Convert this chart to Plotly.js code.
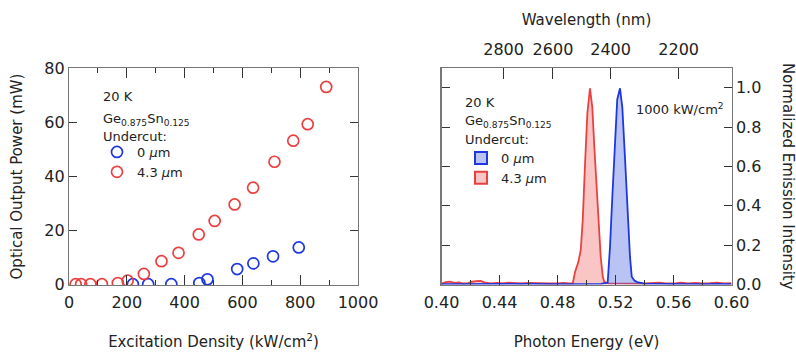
<!DOCTYPE html>
<html>
<head>
<meta charset="utf-8">
<script src="https://cdn.plot.ly/plotly-3.0.1.min.js"></script>
<style>html,body{margin:0;padding:0;background:#fff;}#chart{width:796px;height:354px;}</style>
</head>
<body>
<div id="chart"></div>
<script>
// ---- Left panel: optical output power vs excitation density ----
const densRed = [23, 42, 74, 114, 169, 203, 259, 320, 379, 449, 504, 573, 637, 711, 776, 826, 890];
const powRed  = [0, 0, 0, 0, 0.4, 1.3, 3.8, 8.5, 11.6, 18.4, 23.4, 29.5, 35.7, 45.3, 53.1, 59.2, 73.0];
const densBlue = [221, 274, 354, 451, 479, 582, 638, 706, 795];
const powBlue  = [0, 0, 0, 0.4, 1.8, 5.6, 7.7, 10.3, 13.6];

// ---- Right panel: normalized emission spectra at 1000 kW/cm^2 ----
const eRed = [0.400,0.403,0.406,0.409,0.412,0.415,0.418,0.421,0.424,0.427,0.430,0.434,0.438,0.442,0.446,0.450,0.455,0.460,0.465,0.470,0.475,0.480,0.484,0.488,0.4905,
  0.4921,0.4944,0.4960,0.4974,0.4990,0.5006,0.5024,0.5040,0.5054,0.5071,0.5087,0.5098,0.5112,0.5123,
  0.515,0.520,0.525,0.530,0.535,0.540,0.545,0.550,0.555,0.560,0.565,0.570,0.575,0.580,0.585,0.590,0.595,0.600];
const iRed = [0.004,0.012,0.015,0.008,0.010,0.005,0.006,0.014,0.017,0.018,0.010,0.006,0.008,0.006,0.009,0.007,0.005,0.008,0.006,0.007,0.005,0.006,0.008,0.005,0.006,
  0.064,0.115,0.174,0.327,0.615,0.87,0.997,0.90,0.70,0.48,0.276,0.14,0.04,0.013,
  0.006,0.005,0.007,0.006,0.004,0.005,0.008,0.010,0.006,0.005,0.009,0.006,0.008,0.005,0.007,0.010,0.006,0.007];
const eBlue = [0.400,0.420,0.440,0.460,0.480,0.500,0.510,0.5146,0.5162,0.5178,0.5197,0.5212,0.5231,0.5247,0.5265,0.5284,0.5300,0.5312,0.533,0.535,0.537,0.540,0.550,0.560,0.570,0.580,0.590,0.600];
const iBlue = [0.002,0.003,0.002,0.003,0.002,0.002,0.003,0.01,0.19,0.445,0.73,0.94,0.997,0.90,0.65,0.36,0.14,0.04,0.02,0.012,0.008,0.004,0.003,0.002,0.003,0.002,0.003,0.002];

// ---- Tick labels ----
const wavelengthTicks = [2800, 2600, 2400, 2200];
const energyTicksFromWavelength = wavelengthTicks.map(w => 1239.84 / w);

const FONT = 'DejaVu Sans, Verdana, sans-serif';
const TXT = '#222';
const RED = 'rgb(236,64,64)';
const BLUE = 'rgb(30,55,225)';

const traces = [
  {x: densBlue, y: powBlue, type: 'scatter', mode: 'markers', name: '0 <i>µ</i>m',
   marker: {symbol: 'circle-open', size: 11, color: BLUE, line: {width: 1.7}}, xaxis: 'x', yaxis: 'y', legend: 'legend'},
  {x: densRed, y: powRed, type: 'scatter', mode: 'markers', name: '4.3 <i>µ</i>m',
   marker: {symbol: 'circle-open', size: 11, color: RED, line: {width: 1.7}}, xaxis: 'x', yaxis: 'y', legend: 'legend'},
  {x: eRed, y: iRed, type: 'scatter', mode: 'lines', fill: 'tozeroy', fillcolor: 'rgba(240,90,90,0.35)',
   line: {color: RED, width: 1.8}, xaxis: 'x2', yaxis: 'y2', showlegend: false},
  {x: eBlue, y: iBlue, type: 'scatter', mode: 'lines', fill: 'tozeroy', fillcolor: 'rgba(70,100,225,0.38)',
   line: {color: BLUE, width: 1.8}, xaxis: 'x2', yaxis: 'y2', showlegend: false},
  // same spectrum attached (invisibly) to the wavelength axis so that it is drawn
  {x: eBlue, y: iBlue, type: 'scatter', mode: 'lines', line: {width: 0, color: 'rgba(0,0,0,0)'},
   xaxis: 'x3', yaxis: 'y2', showlegend: false, hoverinfo: 'skip'},
  {x: [null], y: [null], type: 'bar', name: '0 <i>µ</i>m', xaxis: 'x2', yaxis: 'y2', legend: 'legend2',
   marker: {color: 'rgba(70,100,225,0.38)', line: {color: BLUE, width: 2}}},
  {x: [null], y: [null], type: 'bar', name: '4.3 <i>µ</i>m', xaxis: 'x2', yaxis: 'y2', legend: 'legend2',
   marker: {color: 'rgba(240,90,90,0.35)', line: {color: RED, width: 2}}}
];

const W = 796, H = 354;
const px = v => v / W;
const py = v => 1 - v / H;

const axisCommon = {
  showgrid: false, zeroline: false, showline: true, linecolor: '#777', linewidth: 1.2,
  ticks: 'inside', ticklen: 10, tickcolor: '#333', tickwidth: 1,
  tickfont: {family: FONT, size: 16, color: TXT}, automargin: false
};

const layout = {
  width: W, height: H,
  margin: {l: 0, r: 0, t: 0, b: 0},
  paper_bgcolor: '#fff', plot_bgcolor: '#fff',
  font: {family: FONT, color: TXT},
  showlegend: true,
  xaxis: Object.assign({}, axisCommon, {
    domain: [px(69), px(358)], anchor: 'y', range: [0, 1000], tickvals: [0, 200, 400, 600, 800, 1000],
    mirror: 'ticks', ticklabelstandoff: 3, minor: {dtick: 100, ticks: 'inside', ticklen: 5, tickcolor: '#333'},
    title: {text: 'Excitation Density (kW/cm<sup>2</sup>)', font: {family: FONT, size: 15, color: TXT}, standoff: 25}
  }),
  yaxis: Object.assign({}, axisCommon, {
    domain: [py(285), py(68)], anchor: 'x', range: [-0.3, 80], tickvals: [0, 20, 40, 60, 80],
    mirror: 'ticks', ticklen: 8,
    title: {text: 'Optical Output Power (mW)', font: {family: FONT, size: 15, color: TXT}, standoff: 18}
  }),
  xaxis2: Object.assign({}, axisCommon, {
    domain: [px(441.5), px(731.5)], anchor: 'y2', range: [0.40, 0.60],
    tickvals: [0.40, 0.44, 0.48, 0.52, 0.56, 0.60], ticktext: ['0.40', '0.44', '0.48', '0.52', '0.56', '0.60'],
    mirror: true, ticklabelstandoff: 3, minor: {dtick: 0.02, ticks: 'inside', ticklen: 5, tickcolor: '#333'},
    title: {text: 'Photon Energy (eV)', font: {family: FONT, size: 15, color: TXT}, standoff: 25}
  }),
  xaxis3: Object.assign({}, axisCommon, {
    overlaying: 'x2', side: 'top', anchor: 'y2', range: [0.40, 0.60],
    tickmode: 'array', tickvals: energyTicksFromWavelength, ticktext: wavelengthTicks.map(String),
    showline: false, ticklen: 11, ticklabelstandoff: 9,
    title: {text: 'Wavelength (nm)', font: {family: FONT, size: 15, color: TXT}, standoff: 10}
  }),
  yaxis2: Object.assign({}, axisCommon, {
    domain: [py(284.5), py(68)], anchor: 'x2', side: 'right', range: [0, 1.1],
    tickvals: [0, 0.2, 0.4, 0.6, 0.8, 1.0], ticktext: ['0.0', '0.2', '0.4', '0.6', '0.8', '1.0'],
    mirror: 'ticks', ticklen: 8
  }),
  legend: {x: px(97), y: py(137), xanchor: 'left', yanchor: 'top', bgcolor: 'rgba(0,0,0,0)',
           font: {family: FONT, size: 13, color: TXT}, tracegroupgap: 0, itemwidth: 30},
  legend2: {x: px(461), y: py(143), xanchor: 'left', yanchor: 'top', bgcolor: 'rgba(0,0,0,0)',
            font: {family: FONT, size: 13, color: TXT}, tracegroupgap: 0, itemwidth: 30},
  annotations: [
    {xref: 'paper', yref: 'paper', x: px(101), y: py(97), xanchor: 'left', yanchor: 'middle', showarrow: false,
     text: '20 K', font: {family: FONT, size: 13, color: TXT}},
    {xref: 'paper', yref: 'paper', x: px(101), y: py(119), xanchor: 'left', yanchor: 'middle', showarrow: false,
     text: 'Ge<sub>0.875</sub>Sn<sub>0.125</sub>', font: {family: FONT, size: 13, color: TXT}},
    {xref: 'paper', yref: 'paper', x: px(101), y: py(137), xanchor: 'left', yanchor: 'middle', showarrow: false,
     text: 'Undercut:', font: {family: FONT, size: 13, color: TXT}},
    {xref: 'paper', yref: 'paper', x: px(463), y: py(102), xanchor: 'left', yanchor: 'middle', showarrow: false,
     text: '20 K', font: {family: FONT, size: 13, color: TXT}},
    {xref: 'paper', yref: 'paper', x: px(463), y: py(121), xanchor: 'left', yanchor: 'middle', showarrow: false,
     text: 'Ge<sub>0.875</sub>Sn<sub>0.125</sub>', font: {family: FONT, size: 13, color: TXT}},
    {xref: 'paper', yref: 'paper', x: px(463), y: py(139), xanchor: 'left', yanchor: 'middle', showarrow: false,
     text: 'Undercut:', font: {family: FONT, size: 13, color: TXT}},
    {xref: 'paper', yref: 'paper', x: px(726), y: py(109), xanchor: 'right', yanchor: 'middle', showarrow: false,
     text: '1000 kW/cm<sup>2</sup>', font: {family: FONT, size: 13, color: TXT}},
    {xref: 'paper', yref: 'paper', x: px(788), y: py(176), xanchor: 'center', yanchor: 'middle', showarrow: false,
     textangle: 90, text: 'Normalized Emission Intensity', font: {family: FONT, size: 15, color: TXT}}
  ]
};

Plotly.newPlot('chart', traces, layout, {displayModeBar: false, staticPlot: true});
</script>
</body>
</html>
